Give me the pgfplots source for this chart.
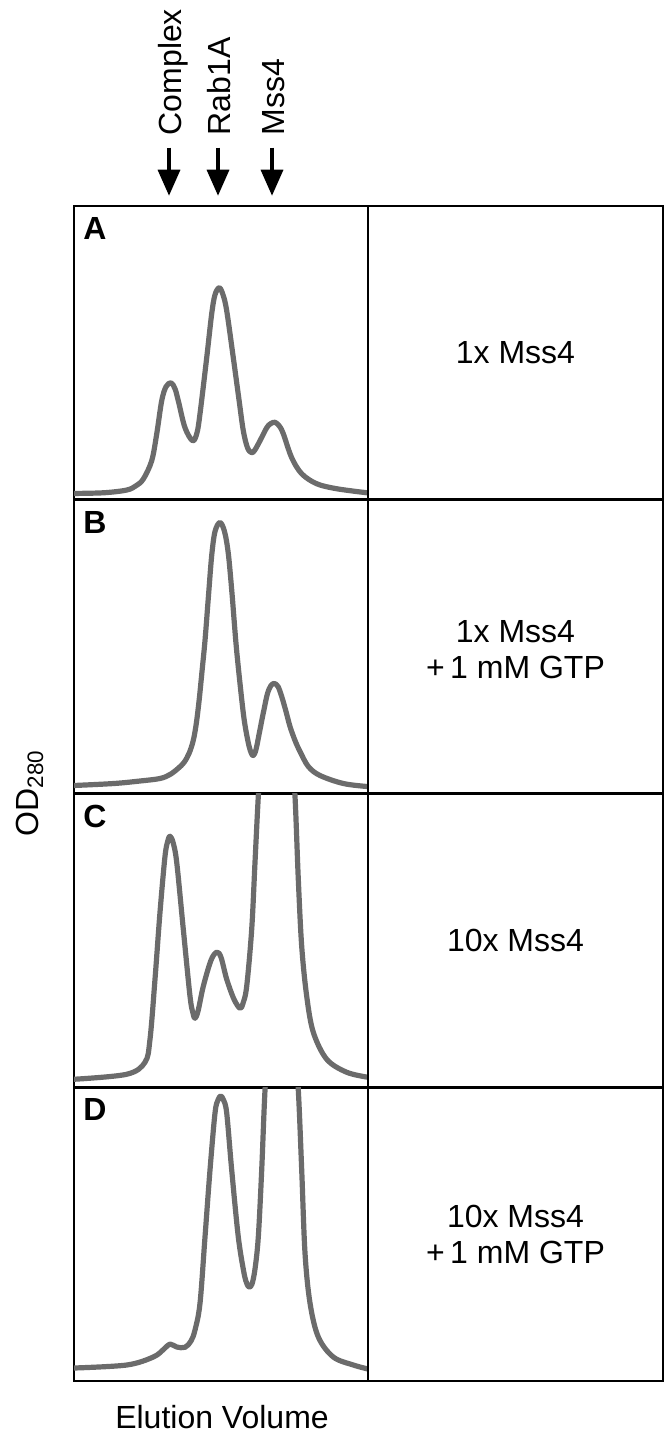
\documentclass[border=0pt]{standalone}
\usepackage{pgfplots}
\pgfplotsset{compat=1.18}
\usepackage{fontspec}
\setmainfont{Liberation Sans}
\usetikzlibrary{arrows.meta}

\pgfplotsset{
  panel/.style={
    scale only axis, width=147pt, height=146.875pt,
    xmin=0, xmax=294, ymin=0, ymax=293.75,
    ticks=none, axis line style={line width=1.3pt},
    clip mode=individual,
  },
  rbox/.style={
    scale only axis, width=147.5pt, height=146.875pt,
    xmin=0, xmax=1, ymin=0, ymax=1,
    ticks=none, axis line style={line width=1.3pt},
  },
  curve/.style={line width=2.6pt, color=black!58, smooth, tension=0.55, mark=none, line join=round, line cap=round},
}
\newcommand{\lbl}{\fontsize{16}{18}\selectfont}

\begin{document}
\begin{tikzpicture}
\path (0pt,0pt) rectangle (332.5pt,-716.5pt);

% ---------- A ----------
\begin{axis}[panel, at={(37pt,-103pt)}, anchor=north west]
\addplot[curve] coordinates {
(0,6.3) (30,7) (52.7,9.7) (62,14) (69.3,20.7) (77.7,39) (82.7,65.7) (87.7,99) (92,113) (97,117)
(101,111) (104.3,99) (111,72) (118.7,59) (123,67) (126,86) (132.7,142) (137.7,186) (141,205) (145.3,212)
(149,205) (152.7,189) (159.3,142) (165,100) (169.3,69) (173.5,52) (177.7,47) (181,50) (186,59) (192.7,72)
(196.5,76) (201,77.5) (205.5,73.5) (209.3,66) (217.7,42) (227.7,26) (242.7,16) (262.7,11) (292.7,7)
};
\node[anchor=north west, inner sep=0pt, font=\bfseries\lbl] at (axis cs:9,282.5) {A};
\draw[line width=1.7pt, -{Triangle[length=13pt,width=11pt]}] (axis cs:95,352) -- (axis cs:95,304);
\draw[line width=1.7pt, -{Triangle[length=13pt,width=11pt]}] (axis cs:144,352) -- (axis cs:144,304);
\draw[line width=1.7pt, -{Triangle[length=13pt,width=11pt]}] (axis cs:198,352) -- (axis cs:198,304);
\node[rotate=90, anchor=base west, inner sep=0pt, font=\lbl] at (axis cs:107,364) {Complex};
\node[rotate=90, anchor=base west, inner sep=0pt, font=\lbl] at (axis cs:156,364) {Rab1A};
\node[rotate=90, anchor=base west, inner sep=0pt, font=\lbl] at (axis cs:210,364) {Mss4};
\end{axis}
\begin{axis}[rbox, at={(184pt,-103pt)}, anchor=north west]
\node[font=\lbl, align=center] at (rel axis cs:0.5,0.5) {1x Mss4};
\end{axis}

% ---------- B ----------
\begin{axis}[panel, at={(37pt,-249.875pt)}, anchor=north west]
\addplot[curve] coordinates {
(0,8) (40,10) (66,12.5) (86,15) (96,19) (104,25) (110,31) (115,40) (119,52) (122,68)
(125,92) (128,122) (131,153) (134.5,198) (137.7,238) (141,262) (146,271) (150.5,262) (154.3,240) (158,200)
(162,150) (166,110) (170,75) (174,52) (177,41) (179.3,38) (182,44) (186,64) (190,84) (193.5,100)
(197,108) (200.3,110) (204,107) (207.7,97) (212,82) (216,67) (221,53) (226,42) (234.3,27) (246,18) (269.3,10) (293,7)
};
\node[anchor=north west, inner sep=0pt, font=\bfseries\lbl] at (axis cs:9,282.5) {B};
\end{axis}
\begin{axis}[rbox, at={(184pt,-249.875pt)}, anchor=north west]
\node[font=\lbl, align=center] at (rel axis cs:0.5,0.49) {1x Mss4\\+\,1 mM GTP};
\end{axis}

% ---------- C ----------
\begin{axis}[panel, at={(37pt,-396.75pt)}, anchor=north west]
\addplot[curve] coordinates {
(0,8) (52.7,13) (71,25) (76,48) (81,108) (86,175) (91,231) (94,247) (96,251) (99,245)
(102.7,225) (109.3,158) (116,91) (119,74) (121,69) (124,76) (129.3,101) (137,127) (142.7,135) (147,130)
(152.7,108) (160,88) (166,79) (169,84) (172.7,101) (177.7,158) (181,225) (184.3,291) (188,350) (195,400)
(202,415) (210,400) (217,350) (221,291) (224.3,208) (227.7,141) (232.7,91) (239.3,55) (252.7,28) (272.7,15) (294,10)
};
\node[anchor=north west, inner sep=0pt, font=\bfseries\lbl] at (axis cs:9,282.5) {C};
\end{axis}
\begin{axis}[rbox, at={(184pt,-396.75pt)}, anchor=north west]
\node[font=\lbl, align=center] at (rel axis cs:0.5,0.5) {10x Mss4};
\end{axis}

% ---------- D ----------
\begin{axis}[panel, at={(37pt,-543.625pt)}, anchor=north west]
\addplot[curve] coordinates {
(0,13) (52.7,16) (79.3,24) (90,32) (96,37) (102.7,34) (111,33.7) (117,40) (121,51) (126,77.7)
(131,144) (136,211) (141,268) (144,281) (146.7,285) (149.5,281) (152.7,268) (157.7,211) (164.3,144) (170,108)
(173,97) (175.3,94) (178,97) (181,112) (184.3,144) (187.7,211) (191,291) (195,350) (202,380) (212,380)
(220,350) (224.3,291) (227.7,211) (231,128) (236,78) (244.3,44) (259.3,24) (279.3,16) (294,12)
};
\node[anchor=north west, inner sep=0pt, font=\bfseries\lbl] at (axis cs:9,282.5) {D};
\end{axis}
\begin{axis}[rbox, at={(184pt,-543.625pt)}, anchor=north west]
\node[font=\lbl, align=center] at (rel axis cs:0.5,0.5) {10x Mss4\\+\,1 mM GTP};
\end{axis}

% ---------- axis titles ----------
\node[rotate=90, anchor=base, inner sep=0pt, font=\lbl] at (19pt,-396.5pt) {OD\textsubscript{280}};
\node[anchor=base, inner sep=0pt, font=\lbl] at (111pt,-714pt) {Elution Volume};
\end{tikzpicture}
\end{document}
